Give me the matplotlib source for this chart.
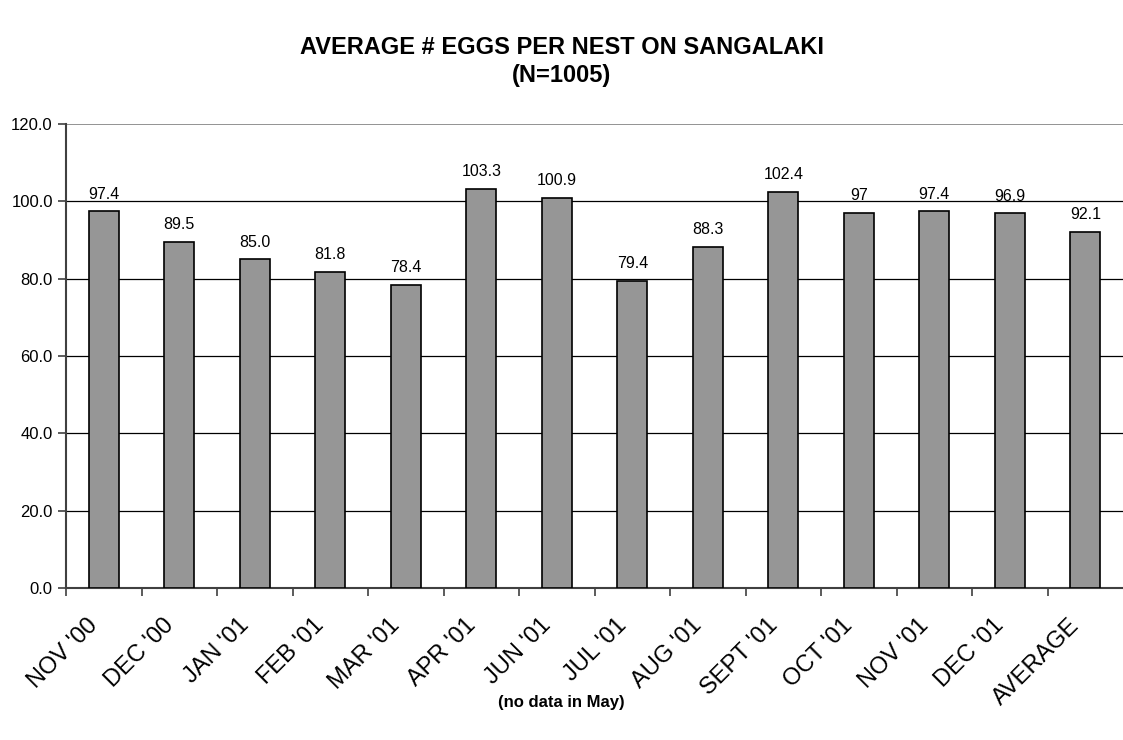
import matplotlib.pyplot as plt
from matplotlib.transforms import ScaledTranslation

plt.rcParams['font.family'] = ['Liberation Sans', 'DejaVu Sans']

months = ["NOV '00", "DEC '00", "JAN '01", "FEB '01", "MAR '01", "APR '01", "JUN '01",
          "JUL '01", "AUG '01", "SEPT '01", "OCT '01", "NOV '01", "DEC '01", "AVERAGE"]
eggs = [97.4, 89.5, 85.0, 81.8, 78.4, 103.3, 100.9, 79.4, 88.3, 102.4, 97.0, 97.4, 96.9, 92.1]
labels = ["97.4", "89.5", "85.0", "81.8", "78.4", "103.3", "100.9", "79.4", "88.3",
          "102.4", "97", "97.4", "96.9", "92.1"]

fig = plt.figure(figsize=(11.23, 7.4), dpi=100)
ax = fig.add_axes([0.0588, 0.2054, 0.9412, 0.627])

x = list(range(len(months)))
bars = ax.bar(x, eggs, width=0.4, color="#969696", edgecolor="black", linewidth=1.2, zorder=3)
for b, lab in zip(bars, labels):
    ax.text(b.get_x() + b.get_width() / 2, b.get_height() + 2.5, lab,
            ha="center", va="bottom", fontsize=11.5)

ax.set_ylim(0, 120)
ax.set_xlim(-0.5, len(months) - 0.5)
ax.set_yticks(range(0, 121, 20))
ax.set_yticklabels([f"{v:.1f}" for v in range(0, 121, 20)], fontsize=12)
for v in range(20, 101, 20):
    ax.axhline(v, color="black", linewidth=0.9, zorder=1)
ax.axhline(120, color="#808080", linewidth=1.2, zorder=1)

# ticks sit between categories, labels under bar centres
ax.set_xticks([i - 0.5 for i in x])
ax.set_xticklabels([])
ax.set_xticks(x, minor=True)
ax.set_xticklabels(months, minor=True, rotation=45, ha="right", rotation_mode="anchor",
                   fontsize=17)
ax.tick_params(axis="x", which="minor", length=0, pad=19)
ax.tick_params(axis="x", which="major", length=6, width=1.2, color="#404040")
ax.tick_params(axis="y", length=6, width=1.2, color="#404040")
shift = ScaledTranslation(-0.17, 0, fig.dpi_scale_trans)
for t in ax.get_xticklabels(minor=True):
    t.set_transform(t.get_transform() + shift)

for s in ["top", "right"]:
    ax.spines[s].set_visible(False)
for s in ["left", "bottom"]:
    ax.spines[s].set_color("#404040")
    ax.spines[s].set_linewidth(1.5)

fig.text(0.5, 0.936, "AVERAGE # EGGS PER NEST ON SANGALAKI", ha="center", va="center",
         fontsize=17, fontweight="bold")
fig.text(0.5, 0.898, "(N=1005)", ha="center", va="center", fontsize=17, fontweight="bold")
fig.text(0.5, 0.051, "(no data in May)", ha="center", va="center", fontsize=12,
         fontweight="bold")

fig.savefig("out.png", dpi=100)
